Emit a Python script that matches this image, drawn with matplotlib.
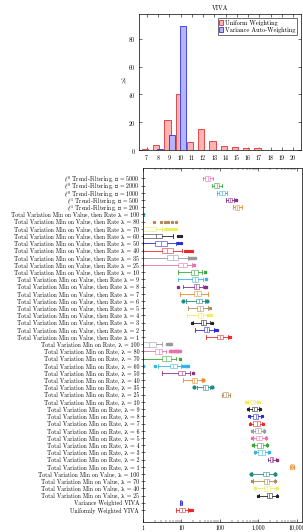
import matplotlib
matplotlib.use("Agg")
import matplotlib.pyplot as plt
import matplotlib.ticker as mticker
import numpy as np

plt.rcParams['font.family'] = ['cmr10', 'DejaVu Serif', 'DejaVu Sans', 'Noto Sans']
plt.rcParams['mathtext.fontset'] = 'cm'
plt.rcParams['axes.formatter.use_mathtext'] = True
plt.rcParams['axes.unicode_minus'] = False

# ---------------- histogram data ----------------
hist_bins = [7, 8, 9, 10, 11, 12, 13, 14, 15, 16, 17, 18, 19, 20]
uniform_pct = [0.5, 3.5, 21.5, 40.0, 5.5, 15.0, 6.5, 3.0, 2.0, 1.2, 1.2, 0.1, 0.3, 0.3]
variance_pct = [0.0, 0.5, 10.5, 89.5, 0, 0, 0, 0, 0, 0, 0, 0, 0, 0]

# ---------------- box plot data ----------------
tv_vr = [100, 80, 70, 60, 50, 40, 35, 25, 10, 9, 8, 7, 6, 5, 4, 3, 2, 1]
tv_r = [100, 80, 70, 60, 50, 40, 35, 25, 10, 9, 8, 7, 6, 5, 4, 3, 2, 1]
tv_v = [100, 70, 40, 25]
row_labels = ([r'$\ell^{0}$ Trend-Filtering, λ = %d' % v for v in (5000, 2000, 1000)]
              + [r'$\ell^{1}$ Trend-Filtering, λ = %d' % v for v in (500, 200)]
              + ['Total Variation Min on Value, then Rate λ = %d' % v for v in tv_vr]
              + ['Total Variation Min on Rate, λ = %d' % v for v in tv_r]
              + ['Total Variation Min on Value, λ = %d' % v for v in tv_v]
              + ['Variance Weighted VIVA', 'Uniformly Weighted VIVA'])

q1 = [42, 72, 97, 160, 247,
      1.0, 1.0, 1.0, 1.0, 2.1, 3.06, 4.1, 8.3, 17.7, 19.1, 21.0, 21.5, 23.8, 25.7, 27.3, 32, 39, 82,
      1.0, 2.0, 3.1, 5.0, 8.3, 18.4, 35.5, 117, 601, 691, 733, 733, 811, 861, 898, 988, 1990, 6900,
      1333, 1389, 1410, 1634,
      9.3, 8.8]
med = [48.8, 83.6, 113, 182, 277,
       1.0, 1.0, 1.0, 2.14, 2.9, 4.2, 6.1, 10.7, 21.6, 22.8, 24.2, 25.7, 28.0, 30.2, 32.1, 37, 45, 100,
       1.4, 2.55, 3.96, 6.1, 10.1, 21.5, 40.8, 141, 707, 778, 861, 931, 988, 1050, 1141, 1211, 2203, 7413,
       1567, 1634, 1694, 1909,
       9.6, 10.5]
q3 = [56.6, 96.6, 131, 203, 315,
      1.03, 1.0, 2.14, 3.2, 4.1, 6.1, 8.3, 14.2, 26.4, 27.3, 28.5, 31.5, 33.5, 35.5, 37, 43, 52.7, 117,
      2.14, 3.1, 5.2, 7.5, 12.3, 25.7, 48, 164, 811, 898, 988, 1094, 1141, 1240, 1333, 1470, 2430, 7900,
      1875, 1909, 1990, 2281,
      9.9, 12.3]
whis_lo = [36.2, 62, 83.6, 143, 218,
           1.0, 1.0, 1.0, 1.0, 1.0, 1.0, 1.0, 1.0, 8.3, 8.3, 11.1, 9.1, 13.0, 15.0, 13.6, 20, 22.4, 42.5,
           1.0, 1.0, 1.0, 2.4, 3.06, 11.1, 26, 110, 530, 570, 600, 620, 700, 707, 764, 826, 1740, 6580,
           666, 707, 811, 1030,
           8.9, 7.2]
whis_hi = [65.8, 113, 152, 231, 373,
           1.06, 1.0, 3.06, 6.1, 7.2, 10.4, 14.5, 18.7, 33.5, 36.8, 36.8, 49.7, 40, 49.7, 45, 55, 70, 164,
           3.06, 3.9, 7.2, 10.0, 16.6, 33.5, 55, 180, 900, 1050, 1150, 1250, 1350, 1538, 1634, 1798, 2800, 8356,
           2684, 2684, 2851, 2972,
           10.5, 15.0]
fliers = [[], [], [], [260], [],
          [], [1.93, 2.88, 3.73, 4.54, 5.56, 7.2], [3.73, 4.3, 4.9, 5.6, 6.4, 7.2], [8.3, 9.5], [8.3, 9.8],
          [12.3, 13.5, 15, 17, 18.4], [16, 17.5, 19.5, 22], [21], [40], [43], [8.3, 41, 44], [], [11.1, 45],
          [55], [49, 53, 58], [18.4, 60.8], [74, 82], [171, 182],
          [4.2, 4.6, 5.0, 5.4], [5.0, 5.4, 5.8, 6.2, 6.6, 7.0, 7.5, 8.0, 8.6, 9.0], [9.1],
          [1.02, 2.05, 11, 12, 13.5, 15], [19.5], [36.8], [21.5, 60.8], [], [474, 490, 1000, 1030],
          [543, 1094], [577, 1211], [601, 1333], [666, 1389], [680, 1600], [730, 1700], [790, 1870],
          [2950], [],
          [640, 2750], [680, 2750], [790, 2950], [1000, 3050],
          [], [16, 17, 18, 19]]

palette = ['#ec6fb0', '#3aa83a', '#36b4e4', '#8a2f8a', '#ee8a2a', '#1f8a84',
           '#b4875a', '#f0ee5a', '#222222', '#2a2ad8', '#e62a2a', '#9a9a9a']
markers = ['s', 's', 's', 's', 'o', 'o', '*', '*', '*', '*', '*', 's']


def lighten(c, f=0.45):
    rgb = np.array(matplotlib.colors.to_rgb(c))
    return tuple(rgb + (1 - rgb) * f)


fig = plt.figure(figsize=(3.03, 5.32), dpi=100)

# ---------------- top histogram ----------------
axh = fig.add_axes([139 / 303, 1 - 150 / 532, (301 - 139) / 303, (150 - 14) / 532])
x = np.array(hist_bins, dtype=float)
axh.bar(x - 0.17, uniform_pct, width=0.55, color='#ffb4b4', edgecolor='#e03030',
        linewidth=0.6, label='Uniform Weighting', zorder=2)
axh.bar(x + 0.2, variance_pct, width=0.55, color='#b4b4ff', edgecolor='#3030e0',
        linewidth=0.6, label='Variance Auto-Weighting', zorder=3)
axh.set_xlim(6.3, 20.7)
axh.set_ylim(0, 98)
axh.set_xticks(hist_bins)
axh.set_yticks([0, 20, 40, 60, 80])
axh.tick_params(direction='in', length=2, width=0.4, labelsize=4.3, pad=2,
                top=True, right=True)
axh.set_ylabel('%', fontsize=4.5, labelpad=4, rotation=0, va='center')
axh.set_title('VIVA', fontsize=4.5, pad=3)
for s in axh.spines.values():
    s.set_linewidth(0.5)
leg = axh.legend(loc='upper right', fontsize=4.5, frameon=True, fancybox=False,
                 edgecolor='black', borderpad=0.3, handlelength=0.6, handleheight=0.9,
                 handletextpad=0.3, labelspacing=0.2, borderaxespad=0.6)
leg.get_frame().set_linewidth(0.5)

# ---------------- bottom box plots ----------------
axb = fig.add_axes([143 / 303, 1 - 522 / 532, (302 - 143) / 303, (522 - 168) / 532])
n = len(row_labels)
positions = [n - i for i in range(n)]
for i in range(n):
    c = palette[i % 12]
    lc = lighten(c, 0.35)
    st = [dict(q1=q1[i], med=med[i], q3=q3[i], whislo=whis_lo[i], whishi=whis_hi[i],
               fliers=fliers[i], label='')]
    axb.bxp(st, positions=[positions[i]], widths=0.65, orientation='horizontal',
            showfliers=True, patch_artist=True, manage_ticks=False,
            boxprops=dict(facecolor='white', edgecolor=lc, linewidth=0.6),
            medianprops=dict(color=lc, linewidth=0.6),
            whiskerprops=dict(color=c, linewidth=0.6),
            capprops=dict(color=c, linewidth=0.6),
            capwidths=0.5,
            flierprops=dict(marker=markers[i % 12], markersize=2.0, markerfacecolor=c,
                            markeredgecolor=c, linestyle='none'))

axb.set_xscale('log')
axb.set_xlim(1, 13500)
axb.set_ylim(-0.66, n + 1.45)
axb.set_yticks(positions)
axb.set_yticklabels(row_labels)
axb.xaxis.set_major_locator(mticker.LogLocator(base=10, numticks=10))
axb.xaxis.set_minor_locator(mticker.LogLocator(base=10, subs=np.arange(2, 10), numticks=20))
axb.xaxis.set_major_formatter(mticker.FuncFormatter(lambda v, p: '{:,.0f}'.format(v)))
axb.xaxis.set_minor_formatter(mticker.NullFormatter())
axb.tick_params(axis='y', direction='inout', length=2.5, width=0.4, labelsize=4.2, pad=1.5)
axb.tick_params(axis='x', which='major', direction='in', length=2.5, width=0.4,
                labelsize=4.2, pad=2, top=True)
axb.tick_params(axis='x', which='minor', direction='in', length=1.3, width=0.3, top=True)
for s in axb.spines.values():
    s.set_linewidth(0.5)

fig.savefig('out.png', dpi=100)
